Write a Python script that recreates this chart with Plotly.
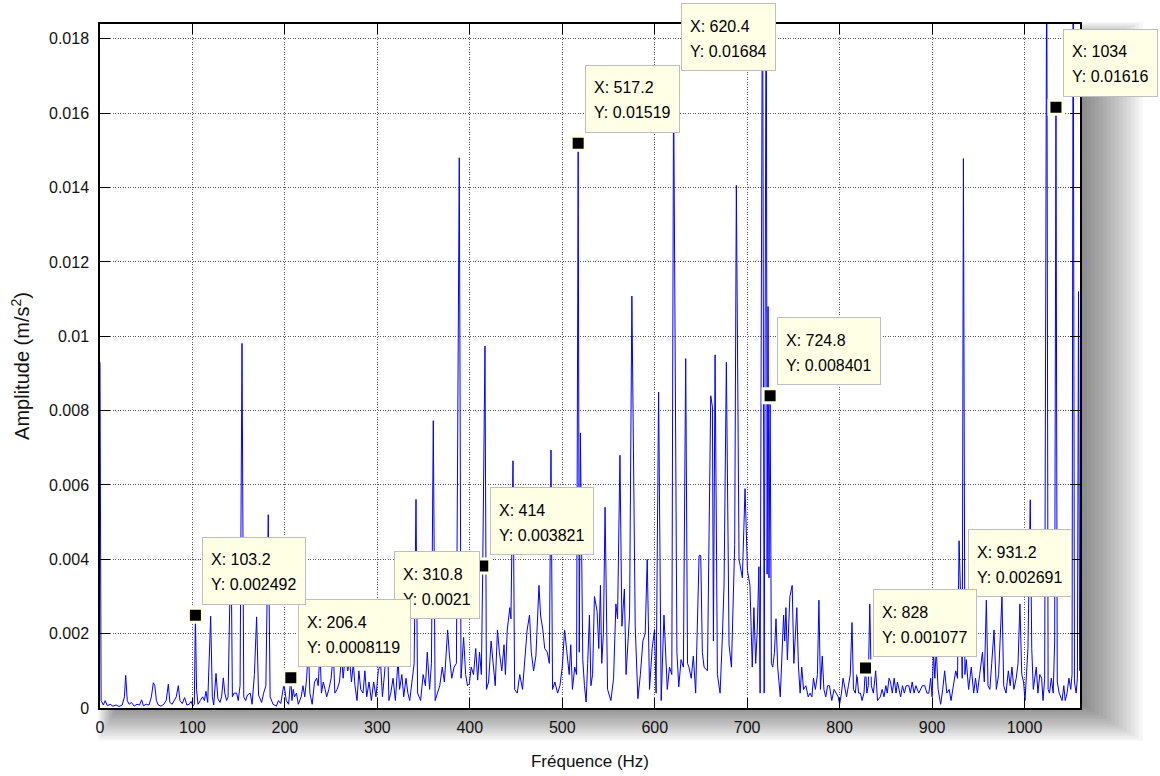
import plotly.graph_objects as go

# ---------------- spectrum data (frequency in Hz, amplitude in m/s^2) ----------------
freq_a = [0, 1.2, 3.6, 5.6, 8, 11, 14, 17.5, 20.5, 24, 26.4, 27.8, 29.5, 31.5, 34, 37, 40, 42.8, 45, 47,
          50, 53, 55.6, 57.7, 59.3, 61, 63, 66, 69, 71.6, 73.9, 75.6, 78, 80.5, 82.5, 84.7, 86.5, 89, 91.5, 94,
          96.5, 98.5, 100.5, 102]
amp_a = [0.0093, 0.0002, 0.00008, 0.0002, 0.00006, 0.0001, 0.00005, 0.00008, 0.00004, 0.00008, 0.0003, 0.00088, 0.0002, 0.0001, 0.00015, 0.00005, 0.0001, 0.00008, 0.00022, 0.00006,
         0.0001, 0.00008, 0.0003, 0.00068, 0.0006, 0.0002, 0.00008, 0.00005, 0.0001, 0.0002, 0.00064, 0.00015, 0.0001, 0.0002, 0.0003, 0.0006, 0.0002, 0.00012, 0.00028, 0.00008,
         0.0001, 0.00018, 0.00005, 0.0001]

freq_b = [103.2, 104.4, 106, 108.5, 111, 113, 114.6, 116.5, 119.7, 121.5, 123, 125.5, 127.5, 129.8, 131.5, 133.4, 135, 136.9, 138.5, 141.7,
          143.2, 145, 147.8, 149.5, 151.5, 153.6, 155.5, 157.5, 159.5, 162.5, 164.5, 167, 169.4, 171.5, 174.8, 177, 179.4, 182, 184, 187.2,
          190.8, 193, 195.5, 199, 201.5, 204]
amp_b = [0.002492, 0.0005, 0.0001, 0.0002, 0.0003, 0.0002, 0.00045, 0.00015, 0.00247, 0.0003, 0.00008, 0.00093, 0.00025, 0.00015, 0.0003, 0.00081, 0.0004, 0.0002, 0.0003, 0.0046,
         0.0003, 0.0004, 0.0004, 0.0002, 0.0006, 0.00981, 0.0003, 0.0002, 0.00035, 0.0004, 0.0001, 0.0009, 0.00245, 0.00035, 0.00015, 0.0004, 0.0006, 0.0052, 0.0003, 0.0001,
         0.00005, 0.0002, 0.00012, 0.00064, 0.0002, 0.0001]

freq_c = [206.4, 207.6, 209, 210.4, 212.5, 214.5, 217.6, 219.5, 221.5, 223.5, 225.4, 227, 229.5, 232, 234.4, 236, 238, 239.5, 241.5, 243.5,
          245.2, 247.5, 250, 252.4, 254, 256.5, 259, 261.4, 263, 264.5, 266.2, 268, 270, 272, 274, 275.8, 278, 280, 282, 284.5,
          286.5, 288.5, 291, 293.5, 296, 298.5]
amp_c = [0.0008119, 0.0002, 0.0005, 0.0003, 0.0004, 0.0001, 0.0003, 0.0006, 0.0003, 0.0008, 0.00164, 0.0004, 0.0001, 0.0007, 0.0008, 0.0006, 0.00155, 0.0004, 0.0007, 0.0005,
         0.0003, 0.0005, 0.0008, 0.0015, 0.0004, 0.0005, 0.0007, 0.0014, 0.0008, 0.0012, 0.0013, 0.001, 0.0013, 0.0007, 0.0012, 0.0006, 0.0002, 0.001, 0.0005, 0.0004,
         0.001, 0.0003, 0.0007, 0.0002, 0.0007, 0.0003]

freq_d = [301, 303.5, 305.5, 308, 310.8, 312.5, 314.5, 317, 319.5, 322.4, 324, 326.5, 328.5, 331, 333, 335, 337.5, 339.8, 341.8, 343.5,
          346.8, 349.5, 352, 354, 356.5, 358.5, 360.5, 362.5, 365, 367.5, 370.2, 372.5, 374.5, 376, 378, 380.5, 383, 385.5, 388.6, 390.5,
          393.3, 395.5, 397.5]
amp_d = [0.001, 0.0012, 0.0003, 0.001, 0.0021, 0.0002, 0.0004, 0.0008, 0.0002, 0.0013, 0.0005, 0.0009, 0.0003, 0.0008, 0.0004, 0.0002, 0.0007, 0.0012, 0.00561, 0.0004,
         0.0002, 0.0009, 0.0006, 0.0015, 0.0005, 0.0012, 0.00773, 0.0002, 0.0004, 0.0006, 0.0011, 0.0007, 0.0015, 0.0021, 0.0014, 0.0008, 0.0011, 0.0012, 0.0148, 0.0008,
         0.0019, 0.0009, 0.0006]

freq_e = [399.5, 401.5, 404, 406.4, 408.5, 410.5, 412.5, 414, 416.4, 418, 420.3, 423, 425, 427.5, 429.9, 432, 434.6, 437, 438.5, 440.5,
          443.3, 444.5, 446.7, 448.5, 451.3, 454, 457, 459.5, 462, 464.6, 466.5, 469, 471.5, 474.8, 476.5, 479, 481, 483.8, 486, 487.8,
          489.5, 492, 495, 497.5, 500, 502.5, 505.5, 507.5, 509.2, 511, 513.5, 515.5]
amp_e = [0.00065, 0.0011, 0.0009, 0.0016, 0.00075, 0.0015, 0.0009, 0.003821, 0.00974, 0.0005, 0.0007, 0.0018, 0.0012, 0.0006, 0.0021, 0.0015, 0.001, 0.0017, 0.0009, 0.0021,
         0.0027, 0.0024, 0.00665, 0.0005, 0.0004, 0.0009, 0.0005, 0.0012, 0.0021, 0.0025, 0.0015, 0.001, 0.0014, 0.0033, 0.0025, 0.0021, 0.0016, 0.0015, 0.0012, 0.00694,
         0.0005, 0.0007, 0.0004, 0.0006, 0.0011, 0.0021, 0.00128, 0.0009, 0.0017, 0.0005, 0.0011, 0.0009]

freq_f = [517.2, 518.4, 519.6, 522.2, 524, 525.8, 527.5, 529.4, 531, 532.8, 534.8, 537.7, 539.5, 541.3, 542.7, 544.5, 546.3, 549, 552.6, 555.5,
          558, 559.8, 562.4, 564.5, 567.2, 569, 572.8, 575.3, 578.9, 581.8, 584.5, 587.2, 589.7, 591.9, 594.4, 597.2, 599.8, 601.5, 604.2, 607,
          610, 613.6]
amp_f = [0.01519, 0.0015, 0.0074, 0.0013, 0.0006, 0.00016, 0.0012, 0.0025, 0.0006, 0.0009, 0.003, 0.0026, 0.0016, 0.0033, 0.0012, 0.002, 0.0054, 0.0005, 0.0002, 0.0008,
         0.0028, 0.0024, 0.0068, 0.0022, 0.0032, 0.0009, 0.0025, 0.01108, 0.0022, 0.00025, 0.0009, 0.0018, 0.002, 0.004, 0.0005, 0.0016, 0.0021, 0.0004, 0.0085, 0.0002,
         0.0025, 0.0005]

freq_g = [616, 618.5, 620.4, 622.4, 624, 626, 628.5, 631, 633.5, 635.5, 637, 639.5, 641.8, 644.3, 646.5, 648, 649.8, 651.5, 653.4, 657,
          660.6, 662.4, 663.5, 665.3, 667.8, 670.7, 673, 675, 677.5, 680.4, 683, 686.5, 688.3, 691.2, 694.8, 697.7, 700.3, 703, 705.5, 707.3,
          709.2, 710.9, 712.7, 714]
amp_g = [0.0011, 0.0009, 0.01684, 0.0063, 0.0015, 0.00057, 0.0013, 0.0011, 0.0094, 0.0012, 0.0011, 0.0008, 0.0014, 0.0004, 0.0025, 0.0041, 0.0041, 0.0015, 0.0011, 0.001,
         0.0084, 0.0081, 0.0018, 0.0095, 0.0009, 0.0004, 0.0018, 0.0033, 0.0093, 0.0017, 0.0011, 0.0044, 0.01406, 0.004, 0.0035, 0.0059, 0.0037, 0.0033, 0.0011, 0.0027,
         0.0012, 0.0021, 0.0038, 0.0004]

freq_h = [716.6, 718.4, 720.6, 721.6, 722.6, 723.6, 724.8, 726.2, 727.7, 729.5, 731.2, 733, 735.8, 737.5, 739.4, 740.6, 741.9, 743.5, 746.2, 748.7,
          750.5, 753.7, 755.5, 757.3, 759, 761, 763.5, 766, 768, 770, 771.7, 773.8, 776, 777.6, 779.3, 781.2, 783, 785, 787, 789,
          791.5, 794, 796.4, 798.5]
amp_h = [0.021, 0.0004, 0.021, 0.0036, 0.0108, 0.0035, 0.008401, 0.0012, 0.0011, 0.0015, 0.0024, 0.0011, 0.0003, 0.0012, 0.0025, 0.0018, 0.0027, 0.0013, 0.003, 0.0033,
         0.0012, 0.0027, 0.0011, 0.0004, 0.0011, 0.0005, 0.0006, 0.0003, 0.0004, 0.0003, 0.0008, 0.0005, 0.0009, 0.0029, 0.0005, 0.0014, 0.0005, 0.0003, 0.0006, 0.0006,
         0.0002, 0.0005, 0.0004, 0.0003]

freq_i = [800, 802, 803.7, 805.5, 807.5, 809.5, 811.5, 813.4, 815, 817, 818.8, 820.5, 822.5, 824.3, 826.3, 828, 829.5, 831, 832.6, 834.3,
          836.5, 839, 841, 844, 846, 848, 850, 851.5, 853.5, 855, 857, 859, 861, 862.5, 864, 866, 868, 870, 872, 874.8,
          876.5, 878.5, 880.5, 882.5, 885.6, 887.5, 889.5, 892, 894.5, 896.5, 898.5]
amp_i = [0.0001, 0.0004, 0.0008, 0.0005, 0.0003, 0.0006, 0.0009, 0.0023, 0.0005, 0.0004, 0.0009, 0.0004, 0.0004, 0.0002, 0.0004, 0.001077, 0.0004, 0.0006, 0.0028, 0.0006,
         0.0004, 0.001, 0.0002, 0.0003, 0.0005, 0.0003, 0.0006, 0.0004, 0.0008, 0.0007, 0.0004, 0.0008, 0.0004, 0.0007, 0.0005, 0.0003, 0.0006, 0.0004, 0.0006, 0.0006,
         0.0004, 0.0007, 0.0004, 0.0006, 0.0004, 0.0005, 0.0006, 0.0006, 0.0004, 0.0004, 0.0008]

freq_j = [900, 901.5, 903, 904.5, 906.5, 909.3, 911.5, 913.6, 916, 918.5, 920.5, 922.5, 925.6, 927.5, 929.2, 931.2, 932.6, 933.9, 935.5, 937,
          939.5, 942.4, 945, 947, 949, 951.5, 954.5, 956.5, 958.7, 960.5, 962.5, 964.5, 967, 969.5, 972, 975.6, 977.5, 980, 982.5, 984.5,
          986.4, 988.5, 991, 993, 995, 997, 999]
amp_j = [0.0003, 0.0015, 0.0008, 0.0016, 0.0005, 0.0001, 0.0005, 0.001, 0.0004, 0.0005, 0.0002, 0.0005, 0.001, 0.0008, 0.0045, 0.002691, 0.0008, 0.01478, 0.0009, 0.0013,
         0.0005, 0.0011, 0.0004, 0.0008, 0.0004, 0.0009, 0.0015, 0.0007, 0.0029, 0.0006, 0.0005, 0.0012, 0.0021, 0.0005, 0.0009, 0.003, 0.0006, 0.0004, 0.001, 0.0006,
         0.0011, 0.0005, 0.0008, 0.0012, 0.0028, 0.0009, 0.0007]

freq_k = [1000.5, 1002.2, 1003.7, 1006.2, 1007.8, 1009.5, 1011, 1012.7, 1014.5, 1016.5, 1018.5, 1020, 1021.8, 1024, 1025.5, 1027, 1029, 1031, 1032.6, 1034,
          1035.4, 1037.5, 1040.6, 1042.5, 1044, 1046, 1048, 1050, 1051.4, 1052.6, 1054, 1055.8, 1057.2, 1058.4, 1059.6]
amp_k = [0.0002, 0.0009, 0.0016, 0.0056, 0.0016, 0.0005, 0.0008, 0.0011, 0.0004, 0.0009, 0.0008, 0.0002, 0.0008, 0.021, 0.0005, 0.0004, 0.0008, 0.0004, 0.0018, 0.01616,
         0.0007, 0.0004, 0.0002, 0.0006, 0.0002, 0.0004, 0.0008, 0.0005, 0.0009, 0.021, 0.0007, 0.0004, 0.0008, 0.0112, 0.001]

# ---------------- data tips ----------------
tip_freq = [103.2, 206.4, 310.8, 414, 517.2, 620.4, 724.8, 828, 931.2, 1034]
tip_amp = [0.002492, 0.0008119, 0.0021, 0.003821, 0.01519, 0.01684, 0.008401, 0.001077, 0.002691, 0.01616]

# ---------------- axes ----------------
x_ticks = [0, 100, 200, 300, 400, 500, 600, 700, 800, 900, 1000]
y_ticks = [0, 0.002, 0.004, 0.006, 0.008, 0.01, 0.012, 0.014, 0.016, 0.018]
y_ticktext = ["0", "0.002", "0.004", "0.006", "0.008", "0.01", "0.012", "0.014", "0.016", "0.018"]
X_RANGE = [0, 1060]
Y_RANGE = [0, 0.0184]

freq_parts = [freq_a, freq_b, freq_c, freq_d, freq_e, freq_f, freq_g, freq_h, freq_i, freq_j, freq_k]
amp_parts = [amp_a, amp_b, amp_c, amp_d, amp_e, amp_f, amp_g, amp_h, amp_i, amp_j, amp_k]
freq, amp = [], []
for fp, ap in zip(freq_parts, amp_parts):
    assert len(fp) == len(ap), (fp[0], len(fp), len(ap))
    freq += fp
    amp += ap

FONT = "Liberation Sans, Arial, Helvetica, sans-serif"
TIP_BG = "#FFFFE6"

fig = go.Figure()
fig.add_trace(go.Scatter(x=freq, y=amp, mode="lines", line=dict(color="#0000FF", width=1),
                         hoverinfo="skip", showlegend=False))
fig.add_trace(go.Scatter(x=tip_freq, y=tip_amp, mode="markers", cliponaxis=False,
                         marker=dict(symbol="square", size=14, color="black",
                                     line=dict(color=TIP_BG, width=3)),
                         hoverinfo="skip", showlegend=False))

# approximate character widths (Arial metrics, em)
CW = {".": 0.278, ":": 0.278, " ": 0.278, "X": 0.667, "Y": 0.667}
def text_w(s, size=16):
    return sum(CW.get(c, 0.556) for c in s) * size

annotations = []
for f, a in reversed(list(zip(tip_freq, tip_amp))):
    xl = "X: " + format(f, "g")
    yl = "Y: " + format(a, ".4g")
    w = max(text_w(xl), text_w(yl)) + 16
    annotations.append(dict(x=f, y=a, xref="x", yref="y", text=" ", showarrow=False,
                            xanchor="left", yanchor="bottom", xshift=7, yshift=10.5,
                            width=w, height=66, bgcolor=TIP_BG, bordercolor="#BEBEBE",
                            borderwidth=1, borderpad=0))
    annotations.append(dict(x=f, y=a, xref="x", yref="y", text=xl, showarrow=False,
                            xanchor="left", yanchor="middle", xshift=14, yshift=55.5,
                            font=dict(family=FONT, size=16, color="#000")))
    annotations.append(dict(x=f, y=a, xref="x", yref="y", text=yl, showarrow=False,
                            xanchor="left", yanchor="middle", xshift=14, yshift=30.5,
                            font=dict(family=FONT, size=16, color="#000")))

# soft drop shadow around the axes box (pixel geometry of the plot area)
L, R, T, B = 100, 1080, 24, 708
shapes = []
for k in range(16):
    s = 3 + 4 * k
    x0 = L + 20 - 0.35 * s
    x1 = R + s
    y0 = T + 20 - 0.35 * s
    y1 = B - 5 + 0.6 * s
    shapes.append(dict(type="rect", xref="paper", yref="paper", layer="below",
                       x0=(x0 - L) / (R - L), x1=(x1 - L) / (R - L),
                       y0=(B - y1) / (B - T), y1=(B - y0) / (B - T),
                       fillcolor="rgba(0,0,0,0.035)", line=dict(width=0)))
# white face of the axes, drawn over the shadow
shapes.append(dict(type="rect", xref="paper", yref="paper", layer="below",
                   x0=0, x1=1, y0=0, y1=1, fillcolor="white", line=dict(width=0)))

axis_common = dict(showline=True, linecolor="black", linewidth=1.5, mirror="ticks",
                   ticks="inside", ticklen=10, tickcolor="black", tickwidth=1,
                   showgrid=True, gridcolor="#555555", griddash="1px,1.5px", gridwidth=1,
                   zeroline=False, tickfont=dict(family=FONT, size=16, color="#111"),
                   automargin=False)

fig.update_layout(
    width=1160, height=776,
    margin=dict(l=L, r=1160 - R, t=T, b=776 - B),
    paper_bgcolor="white", plot_bgcolor="white",
    font=dict(family=FONT, size=16, color="#111"),
    xaxis=dict(range=X_RANGE, tickvals=x_ticks, ticklabelstandoff=4,
               title=dict(text="Fréquence (Hz)", font=dict(family=FONT, size=17, color="#111"), standoff=20),
               **axis_common),
    yaxis=dict(range=Y_RANGE, tickvals=y_ticks, ticktext=y_ticktext, ticklabelstandoff=6,
               title=dict(text="Amplitude (m/s<sup>2</sup>)", font=dict(family=FONT, size=20, color="#111"), standoff=14),
               **axis_common),
    annotations=annotations,
    shapes=shapes,
    showlegend=False,
)

fig.write_html("out.html")
